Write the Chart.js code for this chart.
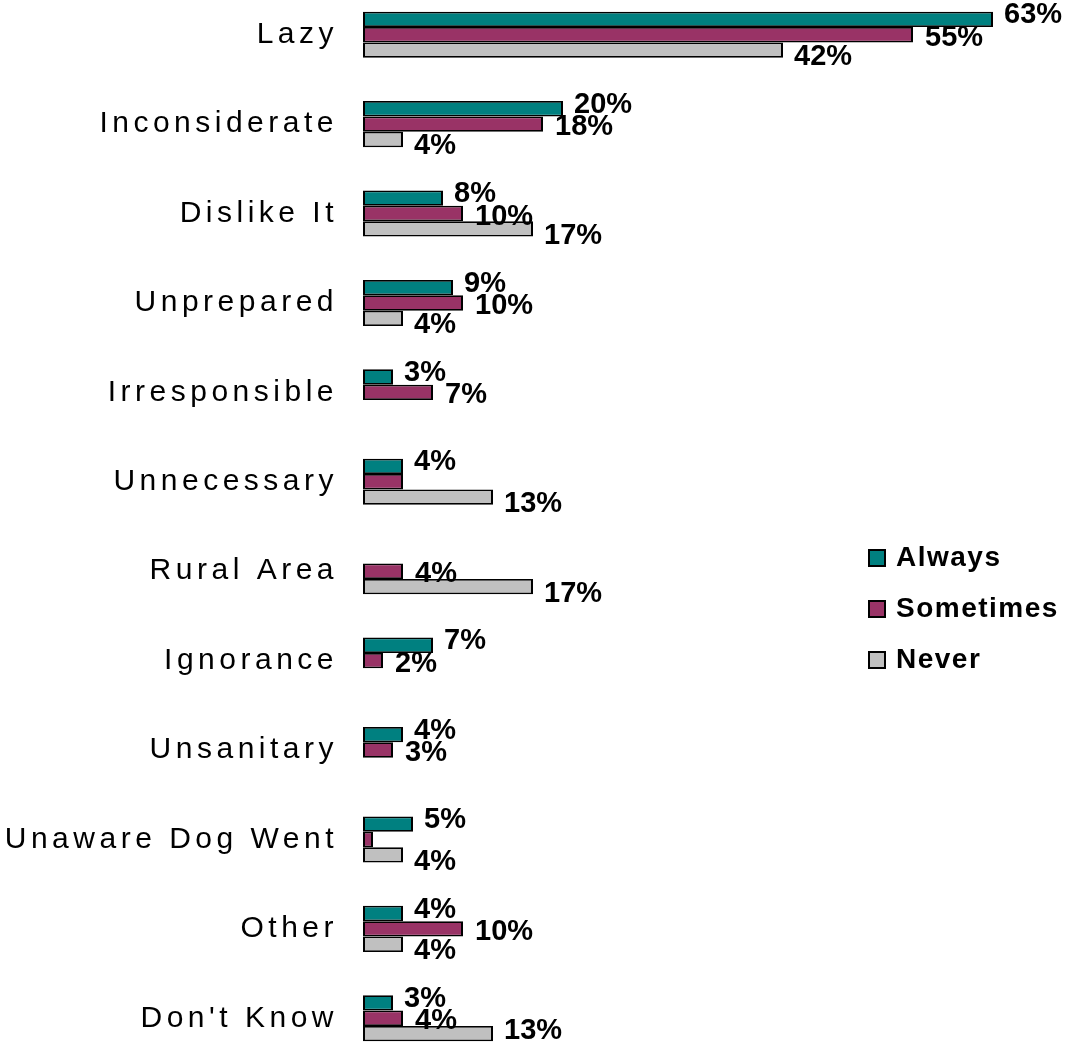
<!DOCTYPE html>
<html>
<head>
<meta charset="utf-8">
<script src="https://cdn.jsdelivr.net/npm/chart.js@4/dist/chart.umd.min.js"></script>
<style>
  html, body { margin: 0; padding: 0; background: #fff; overflow: hidden; }
  #wrap { position: absolute; left: 0; top: -10px; width: 1087px; height: 1073px; }
</style>
</head>
<body>
<div id="wrap"><canvas id="reasonsChart"></canvas></div>
<script>
// Reasons for not picking up after the dog, by how often
const categories = ['Lazy', 'Inconsiderate', 'Dislike It', 'Unprepared', 'Irresponsible',
  'Unnecessary', 'Rural Area', 'Ignorance', 'Unsanitary', 'Unaware Dog Went', 'Other', "Don't Know"];
const always    = [63, 20, 8, 9, 3, 4, null, 7, 4, 5, 4, 3];
const sometimes = [55, 18, 10, 10, 7, 4, 4, 2, 3, 1, 10, 4];
const never     = [42, 4, 17, 4, null, 13, 17, null, null, 4, 4, 13];
const seriesNames = ['Always', 'Sometimes', 'Never'];
const seriesColors = ['#008080', '#993366', '#C0C0C0'];

// where each series puts its percentage next to the bar end
const labelShift = [{ dx: 11, dy: -4 }, { dx: 12, dy: 3 }, { dx: 11, dy: 7 }];

function makeDataset(i, values) {
  return {
    label: seriesNames[i],
    data: values,
    backgroundColor: seriesColors[i],
    borderColor: '#000',
    borderWidth: { top: 1.75, bottom: 1.75, left: 2, right: 2 },
    borderSkipped: false,
    categoryPercentage: 0.515,
    barPercentage: 1
  };
}

// spaced-out category names left of the bars
const categoryNames = {
  id: 'categoryNames',
  afterDraw(chart) {
    const ctx = chart.ctx;
    const yScale = chart.scales.y;
    ctx.save();
    ctx.font = '30px "Liberation Sans", Arial, sans-serif';
    ctx.letterSpacing = '4.5px';
    ctx.fillStyle = '#000';
    ctx.textAlign = 'right';
    ctx.textBaseline = 'middle';
    chart.data.labels.forEach((name, i) => {
      ctx.fillText(name, yScale.right - 25, yScale.getPixelForTick(i));
    });
    ctx.restore();
  }
};

// percentages written beside the bars
const valueLabels = {
  id: 'valueLabels',
  afterDatasetsDraw(chart) {
    const ctx = chart.ctx;
    const lowest = chart.height - 32; // keep the last labels on the page
    ctx.save();
    ctx.font = 'bold 29px "Liberation Sans", Arial, sans-serif';
    ctx.fillStyle = '#000';
    ctx.textAlign = 'left';
    ctx.textBaseline = 'middle';
    chart.data.datasets.forEach((ds, di) => {
      const meta = chart.getDatasetMeta(di);
      meta.data.forEach((bar, i) => {
        const v = ds.data[i];
        if (v == null || v < 2) return; // tiny bars carry no label
        // same value right under the previous series: the labels collapse into one
        if (di > 0 && chart.data.datasets[di - 1].data[i] === v) return;
        const y = Math.min(bar.y + labelShift[di].dy, lowest);
        ctx.fillText(v + '%', bar.x + labelShift[di].dx, y);
      });
    });
    ctx.restore();
  }
};

// legend block on the right
const sideLegend = {
  id: 'sideLegend',
  afterDraw(chart) {
    const ctx = chart.ctx;
    ctx.save();
    ctx.font = 'bold 28px "Liberation Sans", Arial, sans-serif';
    ctx.letterSpacing = '1.5px';
    ctx.textBaseline = 'middle';
    chart.data.datasets.forEach((ds, i) => {
      const y = 568 + i * 51;
      ctx.fillStyle = ds.backgroundColor;
      ctx.fillRect(869, y - 8, 16, 16);
      ctx.lineWidth = 2;
      ctx.strokeStyle = '#000';
      ctx.strokeRect(869, y - 8, 16, 16);
      ctx.fillStyle = '#000';
      ctx.fillText(ds.label, 896, y);
    });
    ctx.restore();
  }
};

const ctx = document.getElementById('reasonsChart').getContext('2d');
new Chart(ctx, {
  type: 'bar',
  data: {
    labels: categories,
    datasets: [makeDataset(0, always), makeDataset(1, sometimes), makeDataset(2, never)]
  },
  options: {
    indexAxis: 'y',
    responsive: true,
    maintainAspectRatio: false,
    animation: false,
    layout: { padding: { left: 0, right: 24, top: 0, bottom: 0 } },
    plugins: {
      legend: { display: false },
      tooltip: { enabled: false }
    },
    scales: {
      x: {
        display: false,
        min: 0,
        max: 70
      },
      y: {
        grid: { display: false, drawTicks: false },
        border: { display: false },
        ticks: { display: false },
        afterFit(scale) { scale.width = 363; }
      }
    }
  },
  plugins: [categoryNames, valueLabels, sideLegend]
});
</script>
</body>
</html>
